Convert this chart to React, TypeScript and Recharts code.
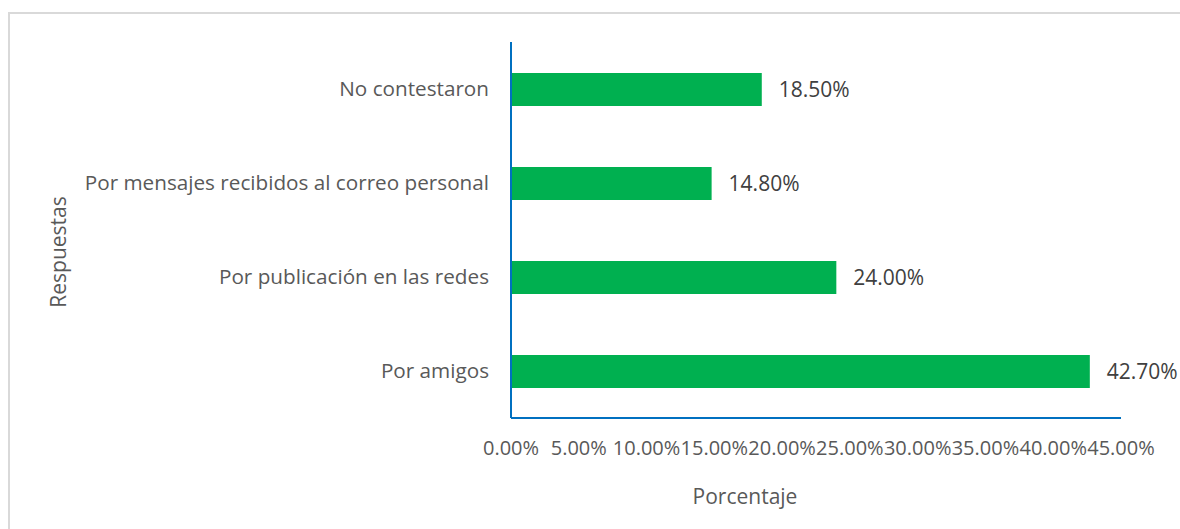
import { BarChart, Bar, XAxis, YAxis, LabelList, Label } from 'recharts';

const categories = [
  'No contestaron',
  'Por mensajes recibidos al correo personal',
  'Por publicación en las redes',
  'Por amigos',
];
const percentages = [18.5, 14.8, 24.0, 42.7];
const xTicks = [0, 5, 10, 15, 20, 25, 30, 35, 40, 45];

const data = categories.map((name, i) => ({ name, value: percentages[i] }));

const FONT = '"Open Sans", sans-serif';
const pct = (v: number) => `${v.toFixed(2)}%`;

export default function App() {
  return (
    <div
      style={{
        position: 'fixed',
        left: 8,
        top: 12,
        right: 0,
        bottom: 0,
        borderTop: '2px solid #d9d9d9',
        borderLeft: '2px solid #d9d9d9',
        overflow: 'hidden',
        fontFamily: FONT,
        background: '#fff',
      }}
    >
      <BarChart
        width={1170}
        height={515}
        data={data}
        layout="vertical"
        margin={{ top: 28, right: 59, left: 10, bottom: 11 }}
        barCategoryGap={0}
      >
        <XAxis
          type="number"
          domain={[0, 45]}
          ticks={xTicks}
          tickFormatter={pct}
          interval={0}
          height={100}
          stroke="#0070C0"
          strokeWidth={2}
          tickLine={false}
          tickSize={0}
          tickMargin={23}
          tick={{ fill: '#595959', fontSize: 20, fontFamily: FONT }}
        >
          <Label
            content={({ viewBox }: any) => (
              <text
                x={viewBox.x + viewBox.width / 2 - 71}
                y={viewBox.y + 86}
                textAnchor="middle"
                fill="#595959"
                fontSize={21}
                fontFamily={FONT}
              >
                Porcentaje
              </text>
            )}
          />
        </XAxis>
        <YAxis
          type="category"
          dataKey="name"
          width={491}
          stroke="#0070C0"
          strokeWidth={2}
          tickLine={false}
          tickSize={0}
          tickMargin={22}
          tick={{ fill: '#595959', fontSize: 20.7, fontFamily: FONT }}
        >
          <Label
            content={({ viewBox }: any) => {
              const x = viewBox.x + 38;
              const y = viewBox.y + viewBox.height / 2 + 22;
              return (
                <text
                  x={x}
                  y={y}
                  transform={`rotate(-90 ${x} ${y})`}
                  textAnchor="middle"
                  dominantBaseline="central"
                  fill="#595959"
                  fontSize={21}
                  fontFamily={FONT}
                >
                  Respuestas
                </text>
              );
            }}
          />
        </YAxis>
        <Bar dataKey="value" fill="#00B050" barSize={33} isAnimationActive={false}>
          <LabelList
            dataKey="value"
            position="right"
            offset={17}
            formatter={(v: any) => pct(Number(v))}
            style={{ fill: '#404040', fontSize: 21, fontFamily: FONT }}
          />
        </Bar>
      </BarChart>
    </div>
  );
}
